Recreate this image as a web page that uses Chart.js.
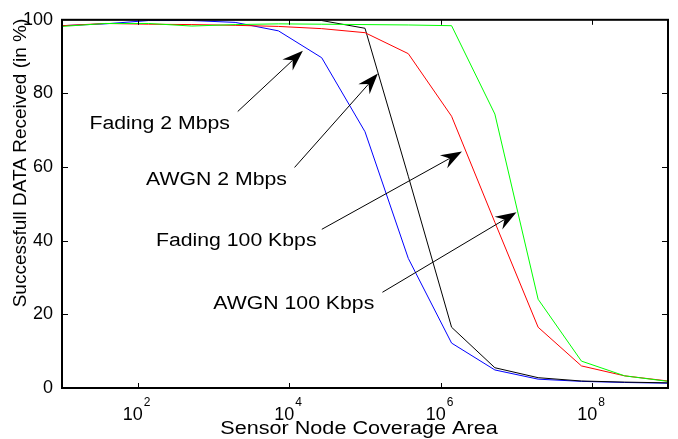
<!DOCTYPE html>
<html>
<head>
<meta charset="utf-8">
<script src="https://cdn.jsdelivr.net/npm/chart.js@4/dist/chart.umd.min.js"></script>
<style>
  html, body { margin: 0; padding: 0; background: #fff; }
  canvas { display: block; }
</style>
</head>
<body>
<canvas id="coverageChart" width="678" height="439"></canvas>
<script>
// Coverage area (x, log scale) shared by every curve
const areas = [10, 37.3, 139, 518, 1931, 7197, 26827, 1.0e5, 3.73e5, 1.39e6, 5.18e6, 1.93e7, 7.2e7, 2.68e8, 1.0e9];

// Successful data received, in %
const fading2M = [98.4, 98.9, 99.8, 99.8, 99.3, 97.0, 89.7, 69.6, 35.2, 12.2, 4.9, 2.4, 1.8, 1.5, 1.3];
const awgn2M = [100, 100, 100, 100, 100, 100, 99.8, 97.7, 57.5, 16.5, 5.5, 2.8, 1.9, 1.6, 1.4];
const fading100K = [98.4, 99.0, 98.8, 98.7, 98.5, 98.2, 97.6, 96.5, 90.8, 73.8, 45.0, 16.5, 6.0, 3.3, 1.9];
const awgn100K = [98.2, 99.0, 99.0, 98.3, 98.7, 98.9, 98.8, 98.7, 98.6, 98.4, 74.4, 24.1, 7.3, 3.3, 1.8];

const xTicks = [1e2, 1e4, 1e6, 1e8];
const xTickExponents = ['2', '4', '6', '8'];
const yTicks = [0, 20, 40, 60, 80, 100];

const FONT = "'Liberation Sans', Arial, Helvetica, sans-serif";

// Arrow annotations, placed in data coordinates
const notes = [
    { text: 'Fading 2 Mbps', at: [195, 71.8], from: [2089, 75.1], to: [15136, 91.6] },
    { text: 'AWGN 2 Mbps', at: [1096, 56.4], from: [11749, 59.9], to: [147911, 85.4] },
    { text: 'Fading 100 Kbps', at: [1995, 39.8], from: [26915, 43.1], to: [1905461, 64.2] },
    { text: 'AWGN 100 Kbps', at: [11482, 22.8], from: [169824, 26.0], to: [1.0e7, 47.7] }
];

function series(values) {
    return values.map((v, i) => ({ x: areas[i], y: v }));
}

function stretchedText(ctx, text, x, y, sx) {
    ctx.save();
    ctx.translate(x, y);
    ctx.scale(sx, 1);
    ctx.fillText(text, 0, 0);
    ctx.restore();
}

function drawArrow(ctx, x1, y1, x2, y2) {
    const dx = x2 - x1, dy = y2 - y1;
    const len = Math.hypot(dx, dy);
    const ux = dx / len, uy = dy / len;
    const px = -uy, py = ux;
    const headLen = 21, headHalf = 7.5, notch = 14;

    ctx.beginPath();
    ctx.moveTo(x1, y1);
    ctx.lineTo(x2 - ux * notch, y2 - uy * notch);
    ctx.stroke();

    ctx.beginPath();
    ctx.moveTo(x2, y2);
    ctx.lineTo(x2 - ux * headLen + px * headHalf, y2 - uy * headLen + py * headHalf);
    ctx.lineTo(x2 - ux * notch, y2 - uy * notch);
    ctx.lineTo(x2 - ux * headLen - px * headHalf, y2 - uy * headLen - py * headHalf);
    ctx.closePath();
    ctx.fill();
}

const decorations = {
    id: 'decorations',
    afterDraw(chart) {
        const ctx = chart.ctx;
        const area = chart.chartArea;
        const xs = chart.scales.x;
        const ys = chart.scales.y;

        ctx.save();
        ctx.strokeStyle = '#000';
        ctx.fillStyle = '#000';

        // box
        ctx.lineWidth = 2;
        ctx.strokeRect(area.left, area.top, area.right - area.left, area.bottom - area.top);

        // inward ticks
        ctx.lineWidth = 1;
        ctx.beginPath();
        xTicks.forEach(v => {
            const x = Math.round(xs.getPixelForValue(v)) + 0.5;
            ctx.moveTo(x, area.bottom); ctx.lineTo(x, area.bottom - 5);
            ctx.moveTo(x, area.top); ctx.lineTo(x, area.top + 5);
        });
        yTicks.slice(1, -1).forEach(v => {
            const y = Math.round(ys.getPixelForValue(v)) + 0.5;
            ctx.moveTo(area.left, y); ctx.lineTo(area.left + 6, y);
            ctx.moveTo(area.right, y); ctx.lineTo(area.right - 6, y);
        });
        ctx.stroke();

        // x tick labels: 10 with exponent
        ctx.textBaseline = 'alphabetic';
        xTicks.forEach((v, i) => {
            const x = xs.getPixelForValue(v);
            ctx.font = '18px ' + FONT;
            ctx.textAlign = 'right';
            ctx.fillText('10', x + 5, area.bottom + 32);
            ctx.font = '12px ' + FONT;
            ctx.textAlign = 'left';
            ctx.fillText(xTickExponents[i], x + 6, area.bottom + 18);
        });

        // axis titles
        ctx.font = '18px ' + FONT;
        ctx.textAlign = 'center';
        ctx.textBaseline = 'middle';
        stretchedText(ctx, 'Sensor Node Coverage Area', (area.left + area.right) / 2 - 6, 429, 1.2);
        ctx.font = '19px ' + FONT;
        ctx.save();
        ctx.translate(21, 163);
        ctx.rotate(-Math.PI / 2);
        ctx.fillText('Successfull DATA Received (in %)', 0, 0);
        ctx.restore();

        // annotations
        ctx.font = '18px ' + FONT;
        ctx.lineWidth = 1;
        notes.forEach(n => {
            drawArrow(ctx,
                xs.getPixelForValue(n.from[0]), ys.getPixelForValue(n.from[1]),
                xs.getPixelForValue(n.to[0]), ys.getPixelForValue(n.to[1]));
            stretchedText(ctx, n.text, xs.getPixelForValue(n.at[0]), ys.getPixelForValue(n.at[1]), 1.18);
        });
        ctx.restore();
    }
};

const ctx = document.getElementById('coverageChart').getContext('2d');
new Chart(ctx, {
    type: 'line',
    data: {
        datasets: [{
            label: 'Fading 2 Mbps',
            data: series(fading2M),
            borderColor: '#0000ff',
            order: 4
        }, {
            label: 'AWGN 2 Mbps',
            data: series(awgn2M),
            borderColor: '#000000',
            order: 3
        }, {
            label: 'Fading 100 Kbps',
            data: series(fading100K),
            borderColor: '#ff0000',
            order: 2
        }, {
            label: 'AWGN 100 Kbps',
            data: series(awgn100K),
            borderColor: '#00ff00',
            order: 1
        }]
    },
    options: {
        responsive: false,
        animation: false,
        devicePixelRatio: 1,
        layout: { padding: { top: 19, right: 10, left: 0, bottom: 0 } },
        elements: {
            line: { borderWidth: 1, tension: 0, fill: false },
            point: { radius: 0 }
        },
        plugins: {
            legend: { display: false },
            tooltip: { enabled: false }
        },
        scales: {
            x: {
                type: 'logarithmic',
                min: 10,
                max: 1e9,
                grid: { display: false },
                border: { display: false },
                ticks: { display: false },
                afterBuildTicks: scale => { scale.ticks = xTicks.map(v => ({ value: v })); },
                afterFit: scale => { scale.height = 51; }
            },
            y: {
                min: 0,
                max: 100,
                grid: { display: false, drawTicks: false },
                border: { display: false },
                ticks: {
                    stepSize: 20,
                    padding: 9,
                    color: '#000',
                    font: { family: FONT, size: 18 }
                },
                afterBuildTicks: scale => { scale.ticks = yTicks.map(v => ({ value: v })); },
                afterFit: scale => { scale.width = 62; }
            }
        }
    },
    plugins: [decorations]
});
</script>
</body>
</html>
